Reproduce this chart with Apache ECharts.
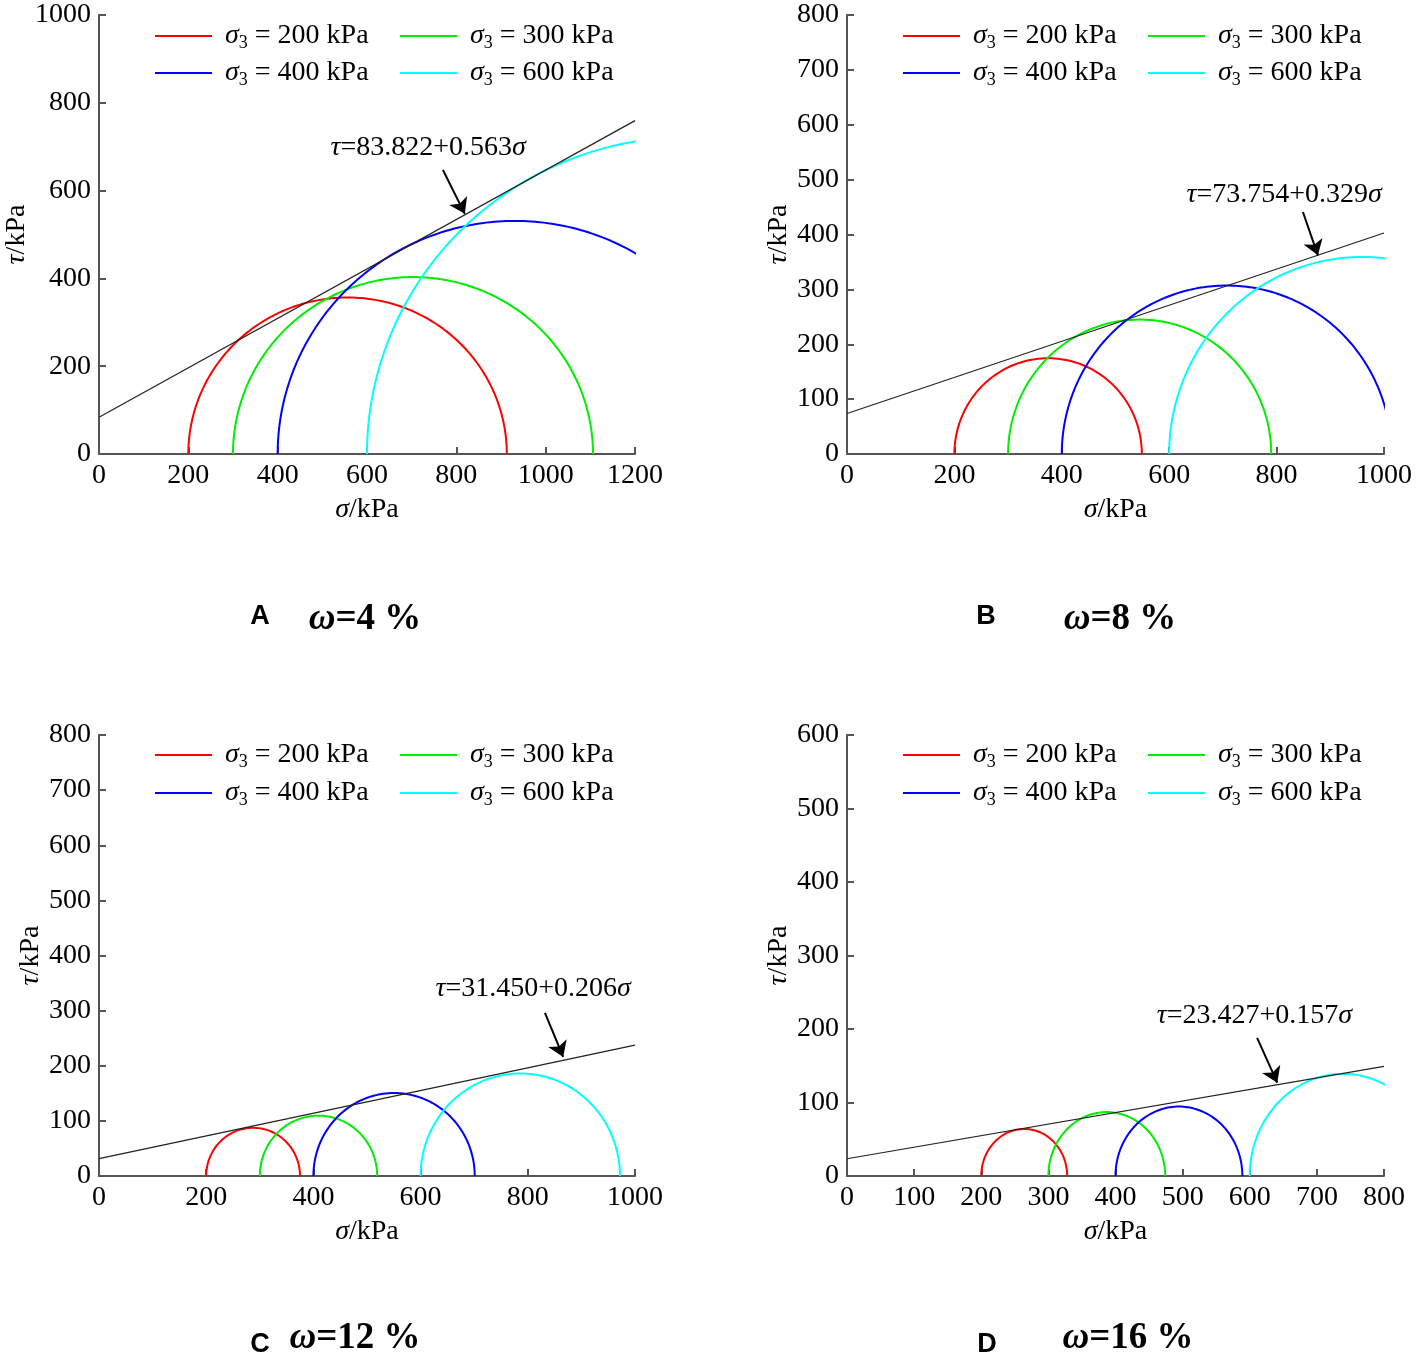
<!DOCTYPE html>
<html>
<head>
<meta charset="utf-8">
<script src="https://cdn.jsdelivr.net/npm/echarts@6/dist/echarts.min.js"></script>
<style>
  html, body { margin: 0; padding: 0; background: #fff; }
  #chart { width: 1417px; height: 1362px; }
</style>
</head>
<body>
<div id="chart"></div>
<script>
// confining pressures (kPa), same for every panel
const sigma3 = [200, 300, 400, 600]
const sigma3Names = ['200', '300', '400', '600']
const circleColors = ['#ff0000', '#00ee00', '#0000ff', '#00ffff']

// major principal stress at failure (kPa)
const sigma1A = [913, 1106, 1462, 2045]
const sigma1B = [549, 790, 1014, 1318]
const sigma1C = [375, 519, 701, 972]
const sigma1D = [328, 474, 589, 878]

// strength envelopes tau = c + k * sigma
const envelopeA = [83.822, 0.563]
const envelopeB = [73.754, 0.329]
const envelopeC = [31.450, 0.206]
const envelopeD = [23.427, 0.157]

// axis ranges [xMax, xStep, yMax, yStep]
const axesA = [1200, 200, 1000, 200]
const axesB = [1000, 200, 800, 100]
const axesC = [1000, 200, 800, 100]
const axesD = [800, 100, 600, 100]

// equation label position and arrow (tail, head) in data units
const labelA = [737, 697], arrowA = [[770, 647], [819, 547]]
const labelB = [814, 472], arrowB = [[849, 441], [877, 362]]
const labelC = [810, 339], arrowC = [[832, 296], [866, 216]]
const labelD = [607, 218], arrowD = [[611, 188], [641, 127]]

const captions = ['A', 'B', 'C', 'D']
const moisture = ['4', '8', '12', '16']

const SERIF = '"Liberation Serif", "Times New Roman", serif'
const FS = 28   // tick labels
const FT = 28   // legend, axis names, equations

const panels = [
  { s1: sigma1A, env: envelopeA, ax: axesA, lab: labelA, arr: arrowA,
    grid: { left: 99, top: 15, width: 536, height: 439 }, nameGap: 64, legendX: [155, 400], legendY: [36, 73] },
  { s1: sigma1B, env: envelopeB, ax: axesB, lab: labelB, arr: arrowB,
    grid: { left: 847, top: 15, width: 537, height: 439 }, nameGap: 54, legendX: [903, 1148], legendY: [36, 73] },
  { s1: sigma1C, env: envelopeC, ax: axesC, lab: labelC, arr: arrowC,
    grid: { left: 99, top: 735, width: 536, height: 441 }, nameGap: 54, legendX: [155, 400], legendY: [755, 793] },
  { s1: sigma1D, env: envelopeD, ax: axesD, lab: labelD, arr: arrowD,
    grid: { left: 847, top: 735, width: 537, height: 441 }, nameGap: 54, legendX: [903, 1148], legendY: [755, 793] },
]

// Mohr circle upper half from sigma3 and sigma1
function mohrCircle(s3, s1) {
  const c = (s1 + s3) / 2
  const r = (s1 - s3) / 2
  const pts = []
  for (let i = 0; i <= 180; i++) {
    const t = Math.PI - (i * Math.PI) / 180
    pts.push([c + r * Math.cos(t), r * Math.sin(t)])
  }
  return pts
}

const grids = []
const xAxes = []
const yAxes = []
const series = []
const legends = []
const graphics = []

const axisLineStyle = { color: '#555', width: 2 }
const nameStyle = {
  fontFamily: SERIF, fontSize: FT, color: '#000',
  rich: { i: { fontFamily: SERIF, fontSize: FT, fontStyle: 'italic', color: '#000' } },
}
const labelStyle = { fontFamily: SERIF, fontSize: FS, color: '#000', margin: 8, formatter: (v) => String(v) }

panels.forEach((p, k) => {
  grids.push(p.grid)
  xAxes.push({
    gridIndex: k, type: 'value', min: 0, max: p.ax[0], interval: p.ax[1],
    name: '{i|σ}/kPa', nameLocation: 'middle', nameGap: 42, nameTextStyle: nameStyle,
    axisLine: { lineStyle: axisLineStyle },
    axisTick: { inside: true, length: 7, lineStyle: axisLineStyle },
    axisLabel: labelStyle,
    splitLine: { show: false },
  })
  yAxes.push({
    gridIndex: k, type: 'value', min: 0, max: p.ax[2], interval: p.ax[3],
    name: '{i|τ}/kPa', nameLocation: 'middle', nameGap: p.nameGap, nameRotate: 90, nameTextStyle: nameStyle,
    axisLine: { lineStyle: axisLineStyle },
    axisTick: { inside: true, length: 7, lineStyle: axisLineStyle },
    axisLabel: labelStyle,
    splitLine: { show: false },
  })

  sigma3.forEach((s3, j) => {
    series.push({
      name: sigma3Names[j], type: 'line', xAxisIndex: k, yAxisIndex: k,
      data: mohrCircle(s3, p.s1[j]), showSymbol: false, symbol: 'none',
      lineStyle: { color: circleColors[j], width: 2 }, itemStyle: { color: circleColors[j] },
      clip: true, silent: true, animation: false,
    })
  })

  const c = p.env[0], kk = p.env[1], xm = p.ax[0]
  series.push({
    name: 'envelope' + k, type: 'line', xAxisIndex: k, yAxisIndex: k,
    data: [[0, c], [xm, c + kk * xm]], showSymbol: false, symbol: 'none',
    lineStyle: { color: '#222', width: 1.2 }, clip: true, silent: true, animation: false,
    markLine: {
      silent: true, animation: false, symbol: ['none', 'arrow'], symbolSize: 15,
      label: { show: false },
      lineStyle: { color: '#000', width: 2, type: 'solid' },
      data: [[{ coord: p.arr[0] }, { coord: p.arr[1] }]],
    },
    markPoint: {
      silent: true, animation: false, symbol: 'circle', symbolSize: 1,
      itemStyle: { color: 'rgba(0,0,0,0)' },
      label: {
        show: true, position: 'inside',
        formatter: '{i|τ}{t|=' + c.toFixed(3) + '+' + kk.toFixed(3) + '}{i|σ}',
        rich: {
          i: { fontFamily: SERIF, fontSize: FT, fontStyle: 'italic', color: '#000' },
          t: { fontFamily: SERIF, fontSize: FT, color: '#000' },
        },
      },
      data: [{ coord: p.lab }],
    },
  })

  sigma3Names.forEach((nm, j) => {
    legends.push({
      data: [nm], left: p.legendX[j % 2], top: p.legendY[Math.floor(j / 2)] - 16,
      orient: 'horizontal', padding: 0, itemWidth: 57, itemHeight: 2,
      icon: 'path://M0,0L57,0L57,2L0,2Z', selectedMode: false,
      formatter: (name) => '{i|σ}{s|3}{t| = ' + name + ' kPa}',
      textStyle: {
        fontFamily: SERIF, fontSize: FT, color: '#000', lineHeight: 32,
        rich: {
          i: { fontFamily: SERIF, fontSize: FT, fontStyle: 'italic', color: '#000', lineHeight: 32, padding: [0, 0, 0, 8] },
          s: { fontFamily: SERIF, fontSize: 18, color: '#000', lineHeight: 14, verticalAlign: 'bottom' },
          t: { fontFamily: SERIF, fontSize: FT, color: '#000', lineHeight: 32 },
        },
      },
    })
  })
})

// panel captions
const capPos = [[260, 617, 365, 619], [986, 617, 1120, 619], [260, 1345, 355, 1338], [987, 1345, 1128, 1338]]
captions.forEach((cap, k) => {
  const q = capPos[k]
  graphics.push({
    type: 'text', x: q[0], y: q[1],
    style: { text: cap, font: 'bold 27px "Liberation Sans", Arial, sans-serif', fill: '#000', align: 'center', verticalAlign: 'middle' },
  })
  graphics.push({
    type: 'text', x: q[2], y: q[3],
    style: {
      text: '{w|ω}{n|=' + moisture[k] + ' %}', align: 'center', verticalAlign: 'middle',
      rich: {
        w: { font: 'italic bold 37px "Liberation Serif", serif', fill: '#000' },
        n: { font: 'bold 37px "Liberation Serif", serif', fill: '#000' },
      },
    },
  })
})

const chart = echarts.init(document.getElementById('chart'))
chart.setOption({
  backgroundColor: '#fff',
  animation: false,
  grid: grids,
  xAxis: xAxes,
  yAxis: yAxes,
  legend: legends,
  series: series,
  graphic: graphics,
})
</script>
</body>
</html>
